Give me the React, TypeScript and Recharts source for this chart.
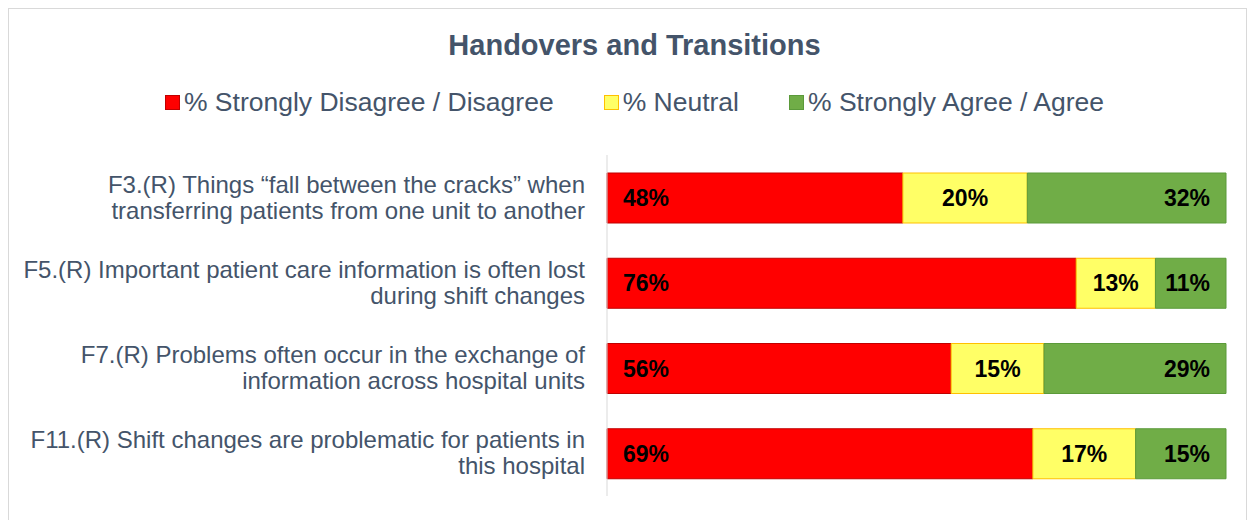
import { BarChart, Bar, XAxis, YAxis, LabelList } from 'recharts';

// Survey items (line breaks as in the original labels)
const categories = [
  'F3.(R) Things “fall between the cracks” when\ntransferring patients from one unit to another',
  'F5.(R) Important patient care information is often lost\nduring shift changes',
  'F7.(R) Problems often occur in the exchange of\ninformation across hospital units',
  'F11.(R) Shift changes are problematic for patients in\nthis hospital',
];
const disagree = [47.8, 75.8, 55.6, 68.8];
const neutral = [20.1, 12.8, 15.0, 16.6];
const agree = [32.1, 11.4, 29.4, 14.6];

const seriesNames = ['% Strongly Disagree / Disagree', '% Neutral', '% Strongly Agree / Agree'];

const TEXT = '#44546A';
const FONT = '"Liberation Sans", Arial, sans-serif';

const data = categories.map((label, i) => ({
  label,
  disagree: disagree[i],
  neutral: neutral[i],
  agree: agree[i],
}));

const series = [
  { key: 'disagree', name: seriesNames[0], fill: '#FF0000', stroke: '#C00000', pos: 'insideLeft' },
  { key: 'neutral', name: seriesNames[1], fill: '#FFFF66', stroke: '#FFC000', pos: 'center' },
  { key: 'agree', name: seriesNames[2], fill: '#70AD47', stroke: '#5B9A3A', pos: 'insideRight' },
] as const;

interface TickProps { x?: number; y?: number; payload?: { value: string }; }

// etiquetas de categoría en varias líneas, alineadas a la derecha
function CategoryTick({ x = 0, y = 0, payload }: TickProps) {
  const lines = String(payload?.value ?? '').split('\n');
  const pitch = 26;
  return (
    <text x={x} y={y} textAnchor="end" fill={TEXT} fontSize={24} fontFamily={FONT}>
      {lines.map((l, i) => (
        <tspan key={i} x={x} y={y + (i - (lines.length - 1) / 2) * pitch + 8}>{l}</tspan>
      ))}
    </text>
  );
}

export default function App() {
  return (
    <div
      style={{
        position: 'relative',
        width: 1239,
        height: 520,
        border: '1px solid #D9D9D9',
        boxSizing: 'border-box',
        fontFamily: FONT,
        background: '#fff',
      }}
    >
      <div
        style={{
          position: 'absolute', top: 21, left: 7, width: 1237, height: 30, lineHeight: '30px',
          textAlign: 'center', fontWeight: 'bold', fontSize: 29, color: TEXT,
        }}
      >
        Handovers and Transitions
      </div>

      {/* leyenda en HTML, a partir de las series */}
      <div
        style={{
          position: 'absolute', top: 78, left: 7, width: 1237, height: 30,
          display: 'flex', justifyContent: 'center', alignItems: 'center', gap: 50,
        }}
      >
        {series.map((s) => (
          <div key={s.key} style={{ display: 'flex', alignItems: 'center' }}>
            <span
              style={{
                display: 'inline-block', width: 13, height: 13, background: s.fill,
                border: `1px solid ${s.stroke}`, marginRight: 4,
              }}
            />
            <span style={{ fontSize: 26.5, color: TEXT, lineHeight: '30px' }}>{s.name}</span>
          </div>
        ))}
      </div>

      <div style={{ position: 'absolute', top: 0, left: 0 }}>
        <BarChart
          width={1237}
          height={503}
          data={data}
          layout="vertical"
          margin={{ top: 146, right: 20, bottom: 16, left: 0 }}
        >
          <XAxis type="number" domain={[0, 100]} hide />
          <YAxis
            type="category"
            dataKey="label"
            width={598}
            tickLine={false}
            tickMargin={16}
            axisLine={{ stroke: '#D9D9D9' }}
            tick={<CategoryTick />}
            interval={0}
          />
          {series.map((s) => (
            <Bar
              key={s.key}
              dataKey={s.key}
              name={s.name}
              stackId="a"
              fill={s.fill}
              stroke={s.stroke}
              strokeWidth={1}
              barSize={50}
              isAnimationActive={false}
            >
              <LabelList
                dataKey={s.key}
                position={s.pos}
                offset={16}
                formatter={(v: number) => `${Math.round(v)}%`}
                fill="#000"
                fontSize={23}
                fontWeight="bold"
                fontFamily={FONT}
              />
            </Bar>
          ))}
        </BarChart>
      </div>
    </div>
  );
}
